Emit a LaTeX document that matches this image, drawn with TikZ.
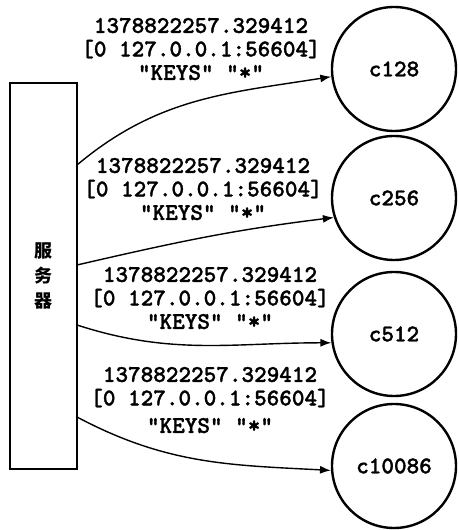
\documentclass[tikz,border=0pt]{standalone}
\usepackage{fontspec}
\newfontfamily\cour{lmmonolt10-bold}[Extension=.otf,FakeBold=1.3]
\newfontfamily\cjk{Noto Sans CJK SC}
\usetikzlibrary{arrows.meta}
\begin{document}
\begin{tikzpicture}[x=1pt,y=1pt,
  client/.style={circle,draw,line width=2.4pt,minimum size=124pt,inner sep=0pt,
    font=\cour\fontsize{24}{25}\selectfont},
  msg/.style={align=center,inner sep=0pt,
    font=\cour\fontsize{24}{23.5}\selectfont},
  arr/.style={line width=1.4pt,-{Latex[length=11pt,width=8pt]}},
  server/.style={draw,line width=2.6pt,minimum width=67pt,minimum height=386pt,inner sep=0pt}]
\useasboundingbox (0,0) rectangle (458,530);
\node[server] (srv) at (43.5,254) {};
\node[align=center,font=\cjk\bfseries\fontsize{18}{25}\selectfont] (srvlabel) at (43.5,254) {服\\务\\器};
\node[client] (c1) at (394,461) {c128};
\node[client] (c2) at (394,332) {c256};
\node[client] (c3) at (394,196) {c512};
\node[client] (c4) at (394,64) {c10086};
\coordinate (s1) at (77,365);
\coordinate (s2) at (77,265);
\coordinate (s3) at (77,205);
\coordinate (s4) at (77,113);
\draw[arr] (s1) to[out=40,in=189] (c1.187);
\draw[arr] (s2) to[out=13,in=187] (c2.198);
\draw[arr] (s3) to[out=-18,in=180] (c3.188);
\draw[arr] (s4) to[out=-28,in=177] (c4.184);
\node[msg] (l1) at (201,481) {1378822257.329412\\{[0 127.0.0.1:56604]}\\"KEYS" "*"};
\node[msg] (l2) at (203,341) {1378822257.329412\\{[0 127.0.0.1:56604]}\\"KEYS" "*"};
\node[msg] (l3) at (210,232) {1378822257.329412\\{[0 127.0.0.1:56604]}\\"KEYS" "*"};
\node[msg] (l4) at (210,130) {1378822257.329412\\{[0 127.0.0.1:56604]}\\[4pt]"KEYS" "*"};
\end{tikzpicture}
\end{document}
